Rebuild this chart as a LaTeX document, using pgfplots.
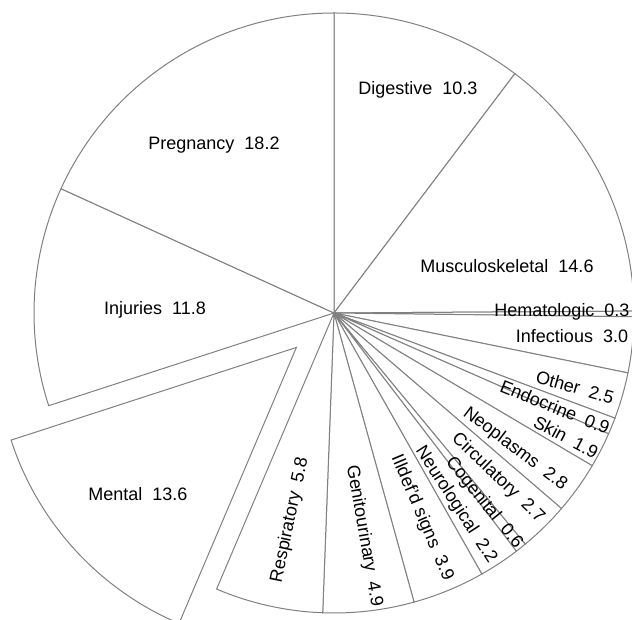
\documentclass[border=0pt]{standalone}
\usepackage{pgfplots}
\usepackage{pgfplotstable}
\pgfplotsset{compat=1.18}
\usepackage{fontspec}
\setmainfont{Liberation Sans}
\definecolor{edge}{RGB}{128,128,128}

% value = percent; ex = explode offset (px); lx,ly,rot = label placement
\pgfplotstableread[col sep=comma]{
name,value,ex,lx,ly,rot
Digestive,10.3,0,84,223,0
Musculoskeletal,14.6,0,173,47,0
Hematologic,0.3,0,228,1,0
Infectious,3.0,0,238,-23,0
Other,2.5,0,241,-74,-16
Endocrine,0.9,0,221,-94,-22
Skin,1.9,0,232,-124,-28
Neoplasms,2.8,0,181,-136,-37
Circulatory,2.7,0,164,-165,-44
Cogenital,0.6,0,150,-190,-51
Neurological,2.2,0,122,-192,-57
Illdef'd signs,3.9,0,88,-205,-67
Genitourinary,4.9,0,30,-223,-80
Respiratory,5.8,0,-44,-207,78
Mental,13.6,51,-196,-181,0
Injuries,11.8,0,-179,3,0
Pregnancy,18.2,0,-120,168,0
}\slices

\begin{document}
\begin{tikzpicture}
\begin{axis}[x=0.5pt,y=0.5pt,xmin=-334,xmax=298,ymin=-307,ymax=313,
  hide axis, clip=true]
\addplot[draw=none,forget plot] coordinates {(0,0)};
\def\cum{0}
\pgfplotsforeachungrouped \i in {0,...,16}{%
  \pgfplotstablegetelem{\i}{value}\of\slices \let\v\pgfplotsretval
  \pgfplotstablegetelem{\i}{ex}\of\slices \let\ex\pgfplotsretval
  \pgfmathsetmacro\a{90-3.6*\cum}%
  \pgfmathsetmacro\b{\a-3.6*\v}%
  \pgfmathsetmacro\m{(\a+\b)/2}%
  \pgfmathsetmacro\ox{\ex*cos(\m)}%
  \pgfmathsetmacro\oy{\ex*sin(\m)}%
  \pgfmathsetmacro\px{\ox+300*cos(\a)}%
  \pgfmathsetmacro\py{\oy+300*sin(\a)}%
  \edef\temp{\noexpand\filldraw[fill=white,draw=edge,line width=0.5pt,line join=miter]
    (axis cs:\ox,\oy) -- (axis cs:\px,\py) arc[start angle=\a,end angle=\b,radius=150pt] -- cycle;}%
  \temp
  \pgfmathsetmacro\cum{\cum+\v}%
}
\pgfplotsforeachungrouped \i in {0,...,16}{%
  \pgfplotstablegetelem{\i}{name}\of\slices \let\nm\pgfplotsretval
  \pgfplotstablegetelem{\i}{value}\of\slices \let\v\pgfplotsretval
  \pgfplotstablegetelem{\i}{lx}\of\slices \let\lx\pgfplotsretval
  \pgfplotstablegetelem{\i}{ly}\of\slices \let\ly\pgfplotsretval
  \pgfplotstablegetelem{\i}{rot}\of\slices \let\rot\pgfplotsretval
  \edef\temp{\noexpand\node[rotate=\rot,anchor=center,inner sep=0pt,font=\noexpand\fontsize{9}{10}\noexpand\selectfont]
    at (axis cs:\lx,\ly) {\nm\space\space\v};}%
  \temp
}
\end{axis}
\pgfresetboundingbox
\useasboundingbox (current axis.south west) rectangle (current axis.north east);
\end{tikzpicture}
\end{document}
